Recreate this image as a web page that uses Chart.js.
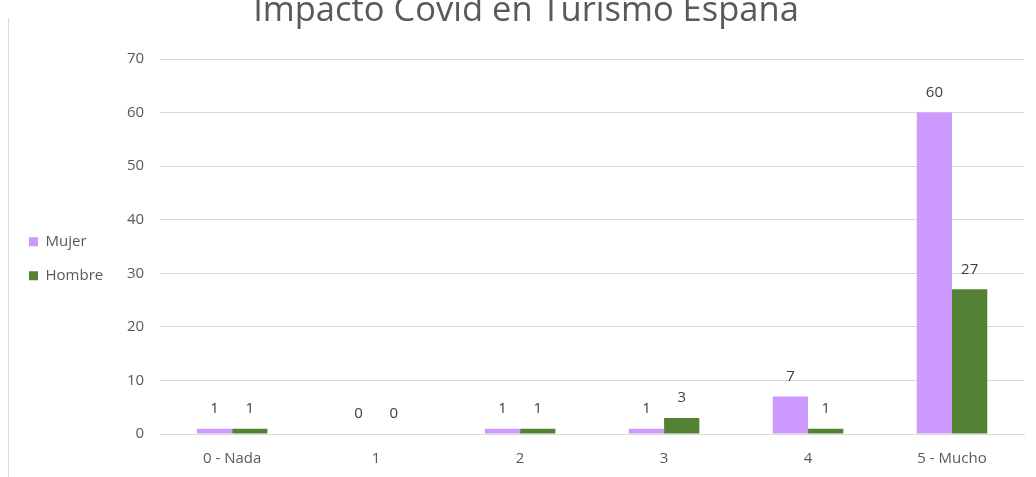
<!DOCTYPE html>
<html>
<head>
<meta charset="utf-8">
<script src="https://cdn.jsdelivr.net/npm/chart.js@4.4.0/dist/chart.umd.min.js"></script>
<style>
    html, body { margin: 0; padding: 0; background: #fff; overflow: hidden; }
    #marco { position: absolute; left: 0; top: 0; width: 1036px; height: 477px; overflow: hidden; }
    #borde { position: absolute; left: 8px; top: 18px; width: 1px; height: 460px; background: #d9d9d9; }
    #titulo { position: absolute; left: 226px; width: 600px; top: -12px; text-align: center;
              font: 34.5px/40px "Open Sans"; color: #595959; white-space: nowrap; }
    #caja { position: absolute; left: 0; top: 0; width: 1036px; height: 484px; }
</style>
</head>
<body>
<div id="marco">
    <div id="borde"></div>
    <div id="caja"><canvas id="GraficaCovid"></canvas></div>
    <div id="titulo"></div>
</div>
<script>
const categorias = ['0 - Nada', '1', '2', '3', '4', '5 - Mucho'];
const mujer = [1, 0, 1, 1, 7, 60];
const hombre = [1, 0, 1, 3, 1, 27];
const titulo = 'Impacto Covid en Turismo España';

document.getElementById('titulo').textContent = titulo;

// etiquetas de valor encima de cada barra
const etiquetasBarras = {
    id: 'etiquetasBarras',
    afterDatasetsDraw(chart) {
        const ctx = chart.ctx;
        ctx.save();
        ctx.font = '15px "Open Sans"';
        ctx.fillStyle = '#404040';
        ctx.textAlign = 'center';
        ctx.textBaseline = 'middle';
        chart.data.datasets.forEach((ds, i) => {
            chart.getDatasetMeta(i).data.forEach((el, j) => {
                ctx.fillText(ds.data[j], el.x, el.y - 20);
            });
        });
        ctx.restore();
    }
};

var ctx = document.getElementById('GraficaCovid');
const config = {
    type: 'bar',
    data: {
        labels: categorias,
        datasets: [{
            label: 'Mujer',
            data: mujer,
            backgroundColor: '#CC99FF',
            categoryPercentage: 0.49,
            barPercentage: 1
        }, {
            label: 'Hombre',
            data: hombre,
            backgroundColor: '#548235',
            categoryPercentage: 0.49,
            barPercentage: 1
        }]
    },
    options: {
        responsive: true,
        maintainAspectRatio: false,
        animation: false,
        layout: { padding: { top: 59, left: 10, right: 12, bottom: 0 } },
        plugins: {
            legend: {
                position: 'left',
                align: 'start',
                title: { display: true, text: ' ', padding: { top: 155, bottom: 0 }, font: { size: 1 } },
                labels: {
                    boxWidth: 9,
                    boxHeight: 9,
                    padding: 19,
                    color: '#595959',
                    font: { family: 'Open Sans', size: 15 }
                }
            },
            title: { display: false },
            tooltip: { enabled: false }
        },
        scales: {
            x: {
                grid: { display: false, drawTicks: false },
                border: { color: '#d9d9d9' },
                ticks: { color: '#595959', padding: 16, font: { family: 'Open Sans', size: 15 } }
            },
            y: {
                min: 0,
                max: 70,
                ticks: { stepSize: 10, color: '#595959', padding: 16, font: { family: 'Open Sans', size: 15 } },
                grid: { color: '#d9d9d9', drawTicks: false },
                border: { display: false },
                afterFit(scale) { scale.width = 47; }
            }
        }
    },
    plugins: [etiquetasBarras]
};
new Chart(ctx, config);
</script>
</body>
</html>
